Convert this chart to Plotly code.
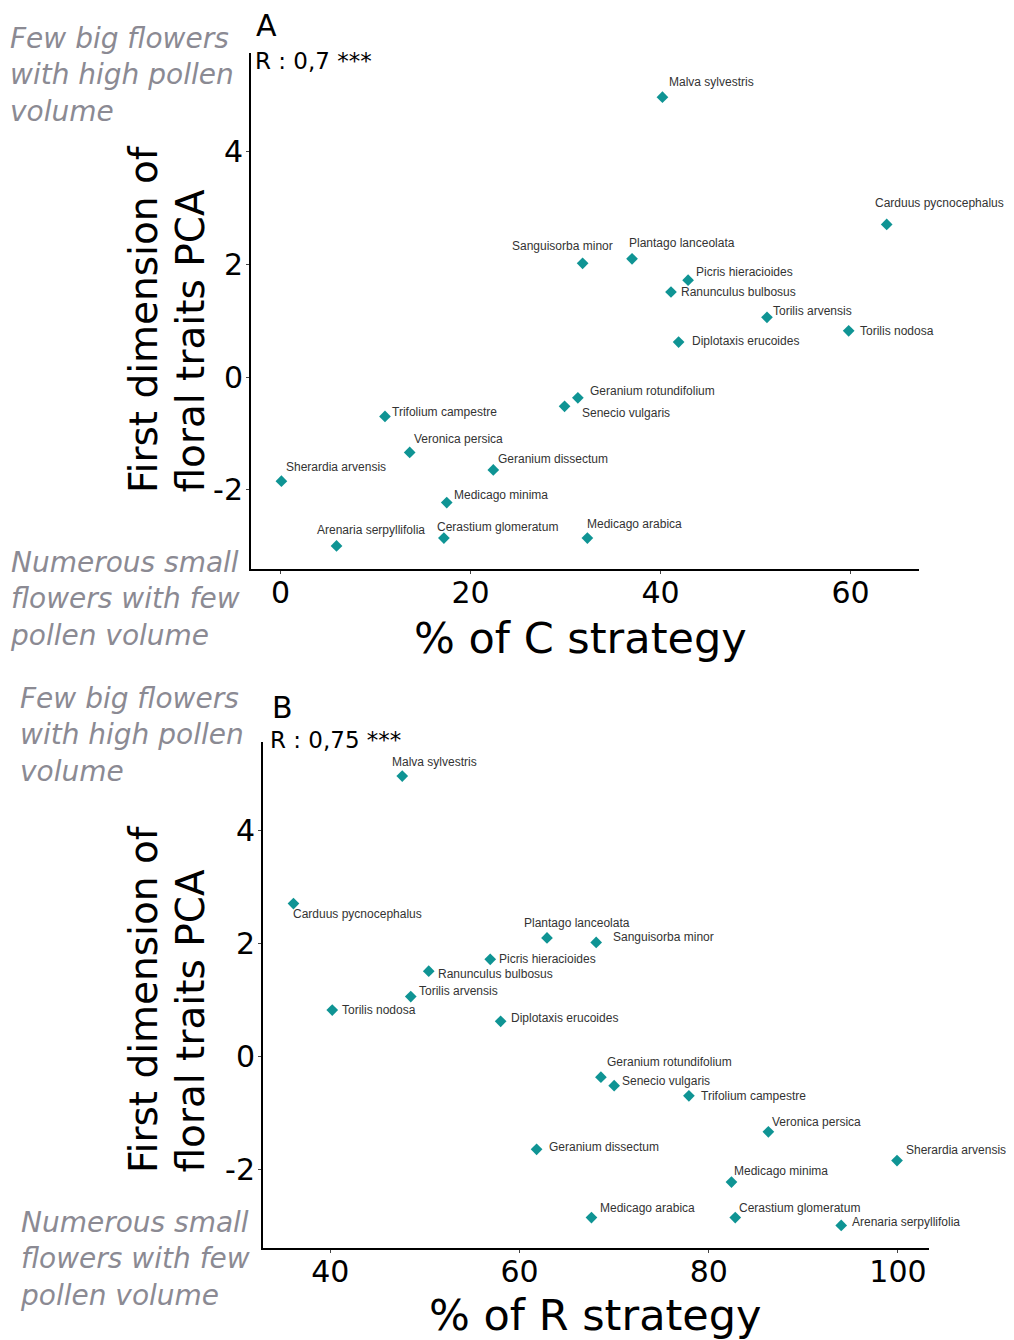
import plotly.graph_objects as go

# ---------------- data ----------------
species = [
    "Malva sylvestris", "Carduus pycnocephalus", "Sanguisorba minor", "Plantago lanceolata",
    "Picris hieracioides", "Ranunculus bulbosus", "Torilis arvensis", "Torilis nodosa",
    "Diplotaxis erucoides", "Geranium rotundifolium", "Senecio vulgaris", "Trifolium campestre",
    "Veronica persica", "Geranium dissectum", "Sherardia arvensis", "Medicago minima",
    "Cerastium glomeratum", "Medicago arabica", "Arenaria serpyllifolia",
]
pca_dim1 = [4.97, 2.71, 2.02, 2.10, 1.72, 1.51, 1.06, 0.82, 0.62, -0.37, -0.52, -0.70,
            -1.34, -1.65, -1.85, -2.23, -2.86, -2.86, -3.00]
c_strategy = [40.2, 63.8, 31.8, 37.0, 42.9, 41.1, 51.2, 59.8, 41.9, 31.3, 29.9, 11.0,
              13.6, 22.4, 0.1, 17.5, 17.2, 32.3, 5.9]
r_strategy = [47.6, 36.1, 68.1, 62.9, 56.9, 50.4, 48.5, 40.2, 58.0, 68.6, 70.0, 77.9,
              86.3, 61.8, 99.9, 82.4, 82.8, 67.6, 94.0]

x_ticks_a = [0, 20, 40, 60]
x_ticks_b = [40, 60, 80, 100]
y_ticks = [-2, 0, 2, 4]
y_tick_text = ["-2", "0", "2", "4"]

r_text_a = "R : 0,7 ***"
r_text_b = "R : 0,75 ***"

# ---------------- label offsets (pixels: dx right, dy up) ----------------
label_offsets_a = {
    "Malva sylvestris": (5, 15), "Carduus pycnocephalus": (-14, 21),
    "Sanguisorba minor": (-73, 17), "Plantago lanceolata": (-5, 16),
    "Picris hieracioides": (6, 8), "Ranunculus bulbosus": (8, 0),
    "Torilis arvensis": (4, 6), "Torilis nodosa": (9, 0),
    "Diplotaxis erucoides": (11, 1), "Geranium rotundifolium": (10, 7),
    "Senecio vulgaris": (15, -7), "Trifolium campestre": (5, 4),
    "Veronica persica": (2, 13), "Geranium dissectum": (3, 11),
    "Sherardia arvensis": (3, 14), "Medicago minima": (5, 8),
    "Cerastium glomeratum": (-9, 11), "Medicago arabica": (-2, 14),
    "Arenaria serpyllifolia": (-22, 16),
}
label_offsets_b = {
    "Malva sylvestris": (-12, 14), "Carduus pycnocephalus": (-2, -10),
    "Sanguisorba minor": (15, 5), "Plantago lanceolata": (-25, 15),
    "Picris hieracioides": (7, 0), "Ranunculus bulbosus": (7, -3),
    "Torilis arvensis": (6, 6), "Torilis nodosa": (8, 0),
    "Diplotaxis erucoides": (8, 3), "Geranium rotundifolium": (4, 15),
    "Senecio vulgaris": (6, 5), "Trifolium campestre": (10, 0),
    "Veronica persica": (2, 10), "Geranium dissectum": (10, 2),
    "Sherardia arvensis": (7, 11), "Medicago minima": (1, 11),
    "Cerastium glomeratum": (2, 10), "Medicago arabica": (7, 10),
    "Arenaria serpyllifolia": (9, 3),
}

# ---------------- layout helpers ----------------
W, H = 1014, 1340
PAGE_OFFSET = 8  # browser default body margin


def fx(p):
    return (p - PAGE_OFFSET) / W


def fy(p):
    return 1 - (p - PAGE_OFFSET) / H


MARK = "#0f9494"
GREY = "#8b8a93"
LABEL_FONT = dict(family="Liberation Sans, Arial, sans-serif", size=12, color="#333333")
AX_FONT = "DejaVu Sans, Verdana, sans-serif"

fig = go.Figure()
fig.add_trace(go.Scatter(x=c_strategy, y=pca_dim1, mode="markers", xaxis="x", yaxis="y",
                         marker=dict(symbol="diamond", size=9, color=MARK), showlegend=False))
fig.add_trace(go.Scatter(x=r_strategy, y=pca_dim1, mode="markers", xaxis="x2", yaxis="y2",
                         marker=dict(symbol="diamond", size=9, color=MARK), showlegend=False))

annotations = []
for name, xv, yv in zip(species, c_strategy, pca_dim1):
    dx, dy = label_offsets_a[name]
    annotations.append(dict(x=xv, y=yv, xref="x", yref="y", text=name, showarrow=False,
                            xanchor="left", yanchor="middle", xshift=dx, yshift=dy,
                            font=LABEL_FONT))
for name, xv, yv in zip(species, r_strategy, pca_dim1):
    dx, dy = label_offsets_b[name]
    annotations.append(dict(x=xv, y=yv, xref="x2", yref="y2", text=name, showarrow=False,
                            xanchor="left", yanchor="middle", xshift=dx, yshift=dy,
                            font=LABEL_FONT))


def paper_text(text, x, y, size, color="black", xanchor="left", yanchor="middle",
               angle=0, align="left", italic=False):
    t = f"<i>{text}</i>" if italic else text
    return dict(x=fx(x), y=fy(y), xref="paper", yref="paper", text=t, showarrow=False,
                xanchor=xanchor, yanchor=yanchor, textangle=angle, align=align,
                font=dict(family=AX_FONT, size=size, color=color))


top_note = "Few big flowers<br>with high pollen<br>volume"
bot_note = "Numerous small<br>flowers with few<br>pollen volume"
ytitle_1 = "First dimension of"
ytitle_2 = "floral traits PCA"

# Panel A texts
annotations += [
    paper_text("A", 266, 25, 30, xanchor="center"),
    paper_text(r_text_a, 253, 61, 23),
    paper_text(top_note, 8, 20, 28, color=GREY, yanchor="top", italic=True),
    paper_text(bot_note, 8, 544, 28, color=GREY, yanchor="top", italic=True),
    paper_text("% of C strategy", 580, 638, 43, xanchor="center"),
    paper_text(ytitle_1, 143, 495, 39, xanchor="center", yanchor="bottom", angle=-90),
    paper_text(ytitle_2, 190, 495, 39, xanchor="center", yanchor="bottom", angle=-90),
]
# Panel B texts
annotations += [
    paper_text("B", 282, 707, 30, xanchor="center"),
    paper_text(r_text_b, 268, 740, 23),
    paper_text(top_note, 18, 680, 28, color=GREY, yanchor="top", italic=True),
    paper_text(bot_note, 18, 1204, 28, color=GREY, yanchor="top", italic=True),
    paper_text("% of R strategy", 595, 1315, 43, xanchor="center"),
    paper_text(ytitle_1, 143, 1175, 39, xanchor="center", yanchor="bottom", angle=-90),
    paper_text(ytitle_2, 190, 1175, 39, xanchor="center", yanchor="bottom", angle=-90),
]


def xaxis_style(domain, rng, ticks, anchor):
    return dict(domain=domain, range=rng, tickvals=ticks, ticktext=[str(t) for t in ticks],
                showline=True, linecolor="black", linewidth=2, ticks="outside", ticklen=3,
                tickcolor="#444", tickwidth=1, showgrid=False, zeroline=False, anchor=anchor,
                ticklabelstandoff=-7,
                tickfont=dict(family=AX_FONT, size=30, color="black"), fixedrange=True)


def yaxis_style(domain, rng, anchor):
    return dict(domain=domain, range=rng, tickvals=y_ticks, ticktext=y_tick_text,
                showline=True, linecolor="black", linewidth=2, ticks="outside", ticklen=3,
                tickcolor="#444", tickwidth=1, showgrid=False, zeroline=False, anchor=anchor,
                ticklabelstandoff=-3,
                tickfont=dict(family=AX_FONT, size=30, color="black"), fixedrange=True)


fig.update_layout(
    width=W, height=H, margin=dict(l=0, r=0, t=0, b=0),
    paper_bgcolor="white", plot_bgcolor="white", showlegend=False,
    xaxis=xaxis_style([fx(251), fx(919)], [-3.1, 67.2], x_ticks_a, "y"),
    yaxis=yaxis_style([fy(569), fy(53)], [-3.41, 5.755], "x"),
    xaxis2=xaxis_style([fx(263), fx(929)], [32.88, 103.28], x_ticks_b, "y2"),
    yaxis2=yaxis_style([fy(1248), fy(742)], [-3.40, 5.575], "x2"),
    annotations=annotations,
)

fig.write_html("out.html")
